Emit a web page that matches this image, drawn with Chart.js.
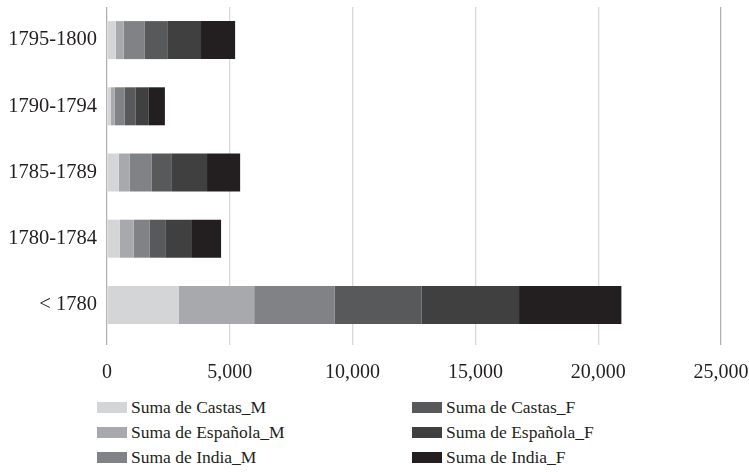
<!DOCTYPE html>
<html>
<head>
<meta charset="utf-8">
<script src="https://cdn.jsdelivr.net/npm/chart.js@4/dist/chart.umd.min.js"></script>
<style>
    html, body { margin: 0; padding: 0; background: #fff; }
    #wrap { position: relative; width: 749px; height: 472px; }
    #chartBox { position: absolute; left: 0; top: 0; width: 749px; height: 392px; }
    #legend {
        position: absolute; left: 97px; top: 395px;
        display: grid; grid-template-columns: 315px 300px; grid-auto-flow: column;
        grid-template-rows: 25px 25px 25px;
        font-family: "Liberation Serif", serif; font-size: 17.5px; color: #231f20;
    }
    .item { display: flex; align-items: center; white-space: nowrap; }
    .swatch { width: 30px; height: 11px; margin-right: 4px; }
</style>
</head>
<body>
<div id="wrap">
    <div id="chartBox"><canvas id="byPeriod"></canvas></div>
    <div id="legend"></div>
</div>
<script>
// ── Data ──────────────────────────────────────────────────

const periods     = ['1795-1800', '1790-1794', '1785-1789', '1780-1784', '< 1780'];
const castasM     = [355, 151, 478, 519, 2929];
const espanolaM   = [327, 164, 449, 572, 3064];
const indiaM      = [858, 408, 899, 653, 3268];
const castasF     = [940, 449, 817, 654, 3554];
const espanolaF   = [1348, 531, 1430, 1062, 3962];
const indiaF      = [1389, 654, 1348, 1185, 4167];
const xTicks      = [0, 5000, 10000, 15000, 20000, 25000];

const seriesNames  = ['Suma de Castas_M', 'Suma de Española_M', 'Suma de India_M',
                      'Suma de Castas_F', 'Suma de Española_F', 'Suma de India_F'];
const seriesValues = [castasM, espanolaM, indiaM, castasF, espanolaF, indiaF];
const seriesColors = ['#d4d5d7', '#a7a9ac', '#808285', '#58595b', '#404041', '#231f20'];

const FONT = '"Liberation Serif", serif';
const INK  = '#231f20';

// ── Chart ─────────────────────────────────────────────────

function buildLegend(chart) {
    const box = document.getElementById('legend');
    box.innerHTML = '';
    chart.data.datasets.forEach(ds => {
        const item = document.createElement('div');
        item.className = 'item';
        item.innerHTML = '<span class="swatch" style="background:' + ds.backgroundColor + '"></span>' + ds.label;
        box.appendChild(item);
    });
}

function periodChart() {
    const ctx = document.getElementById('byPeriod').getContext('2d');

    const chart = new Chart(ctx, {
        type: 'bar',
        data: {
            labels: periods,
            datasets: seriesNames.map((name, i) => ({
                label: name,
                data: seriesValues[i],
                backgroundColor: seriesColors[i],
                borderWidth: 0,
                categoryPercentage: 1,
                barPercentage: 0.574
            }))
        },
        options: {
            indexAxis: 'y',
            responsive: true,
            maintainAspectRatio: false,
            animation: false,
            layout: { padding: { top: 7, right: 28, left: 0, bottom: 0 } },
            plugins: {
                legend:  { display: false },
                tooltip: { enabled: false }
            },
            scales: {
                x: {
                    stacked: true,
                    min: 0,
                    max: 25000,
                    afterBuildTicks: s => { s.ticks = xTicks.map(v => ({ value: v })); },
                    afterFit: s => { s.height = 54; s.paddingLeft = 0; s.paddingRight = 0; },
                    ticks: {
                        color: INK,
                        font: { family: FONT, size: 20 },
                        padding: 16,
                        callback: v => v.toLocaleString('en-US')
                    },
                    grid: {
                        color: c => (c.tick && (c.tick.value === 0 || c.tick.value === 25000)) ? '#b3b3b3' : '#d9d9d9',
                        lineWidth: 1.3,
                        drawTicks: true,
                        tickLength: 7
                    },
                    border: { display: false }
                },
                y: {
                    stacked: true,
                    afterFit: s => { s.width = 107; s.paddingTop = 0; s.paddingBottom = 0; },
                    ticks: {
                        color: INK,
                        font: { family: FONT, size: 20.5 },
                        padding: 10
                    },
                    grid:   { display: false, drawTicks: false },
                    border: { display: false }
                }
            }
        }
    });

    buildLegend(chart);
}

periodChart();
</script>
</body>
</html>
